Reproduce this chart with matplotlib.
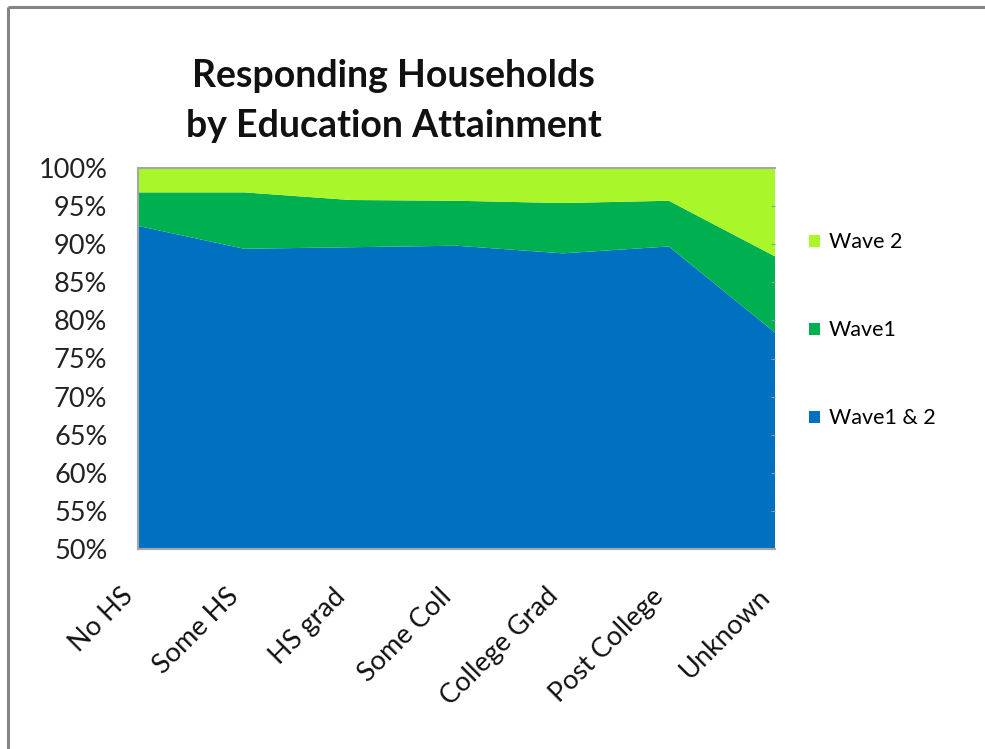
import matplotlib
matplotlib.use("Agg")
import matplotlib.pyplot as plt
from matplotlib.patches import Patch
from matplotlib.lines import Line2D
from matplotlib.transforms import ScaledTranslation
import numpy as np

# Education categories and share of responding households (percent)
categories = ["No HS", "Some HS", "HS grad", "Some Coll", "College Grad", "Post College", "Unknown"]
wave1_and_2 = [92.4, 89.4, 89.6, 89.8, 88.8, 89.7, 78.4]
wave1_only = [4.4, 7.4, 6.2, 5.9, 6.6, 6.0, 10.0]
wave2_only = [3.2, 3.2, 4.2, 4.3, 4.6, 4.3, 11.6]
series_labels = ["Wave1 & 2", "Wave1", "Wave 2"]
series_colors = ["#0070C0", "#00B050", "#A9F72A"]
y_ticks = [50, 55, 60, 65, 70, 75, 80, 85, 90, 95, 100]

plt.rcParams['font.family'] = ['Lato', 'DejaVu Sans']

W, H = 985, 749
fig = plt.figure(figsize=(W / 100, H / 100), dpi=100)
fig.patch.set_facecolor("white")

# outer chart border (left and top edges visible)
fig.add_artist(Line2D([8 / W, 8 / W], [0, 1 - 7 / H], transform=fig.transFigure,
                      color="#858585", lw=2.2, solid_capstyle="butt"))
fig.add_artist(Line2D([8 / W, 1], [1 - 7 / H, 1 - 7 / H], transform=fig.transFigure,
                      color="#858585", lw=2.2, solid_capstyle="butt"))

left, right, top, bottom = 138, 775, 168, 549
ax = fig.add_axes([left / W, 1 - bottom / H, (right - left) / W, (bottom - top) / H])

x = np.arange(len(categories))
ax.stackplot(x, wave1_and_2, wave1_only, wave2_only, colors=series_colors,
             labels=series_labels, linewidth=0)

ax.set_xlim(0, len(categories) - 1)
ax.set_ylim(50, 100)
ax.set_yticks(y_ticks)
ax.set_yticklabels([f"{v}%" for v in y_ticks], fontsize=19.5, color="#222222")
ax.set_xticks(x)
ax.set_xticklabels(categories, fontsize=19.5, rotation=45, ha="right", va="top",
                   color="#111111")
shift = ScaledTranslation(4 / 100, 0, fig.dpi_scale_trans)
for lbl in ax.get_xticklabels():
    lbl.set_transform(lbl.get_transform() + shift)
ax.tick_params(axis="x", length=0, pad=25)
ax.tick_params(axis="y", left=False, right=True, direction="in", length=3,
               color="#999999", pad=22)
for side in ["left", "top", "bottom"]:
    ax.spines[side].set_color("#A6A6A6")
    ax.spines[side].set_linewidth(1.5)
ax.spines["right"].set_visible(False)

fig.text(393 / W, 1 - 87 / H, "Responding Households", ha="center", va="baseline",
         fontsize=27, fontweight="bold", color="#111111")
fig.text(394 / W, 1 - 137 / H, "by Education Attainment", ha="center", va="baseline",
         fontsize=27, fontweight="bold", color="#111111")

handles = [Patch(facecolor=series_colors[i], edgecolor="none") for i in (2, 1, 0)]
labels = [series_labels[i] for i in (2, 1, 0)]
fig.legend(handles, labels, loc="upper left", bbox_to_anchor=(790 / W, 1 - 213 / H),
           frameon=False, fontsize=15.5, labelspacing=3.16, handlelength=0.5,
           handleheight=0.5, handletextpad=0.4)

fig.savefig("out.png", dpi=100)
